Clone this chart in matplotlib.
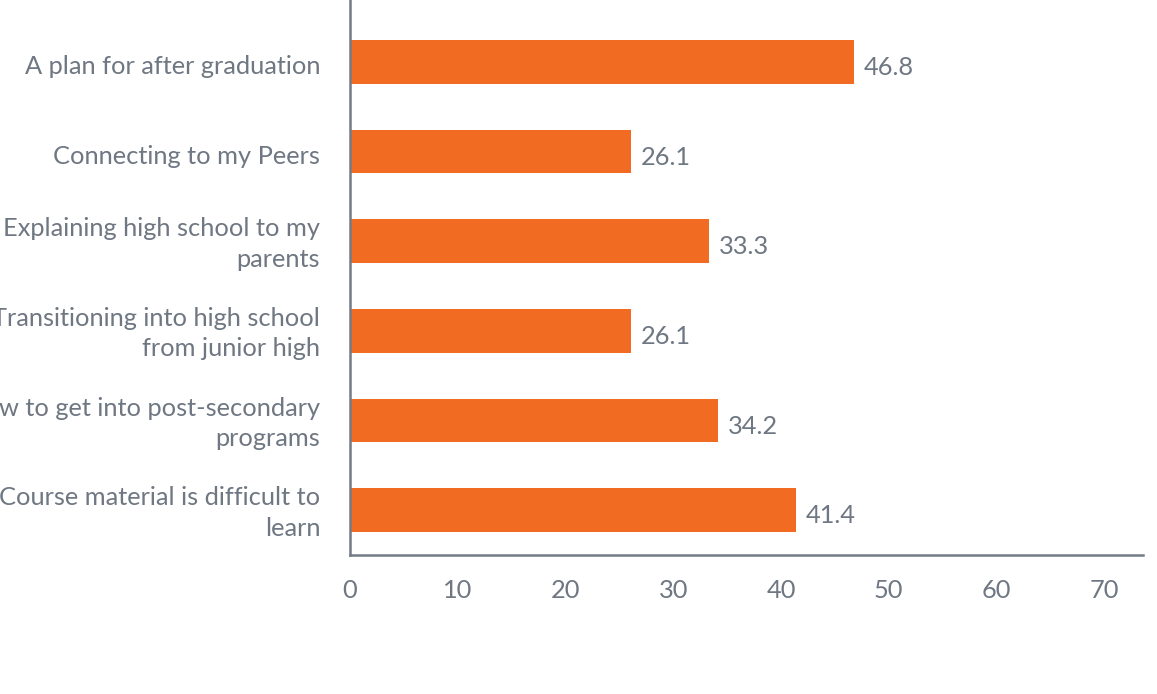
from matplotlib import pyplot as plt
from matplotlib import transforms
import numpy as np

# data, bottom to top
categories = ['Course material is difficult to\nlearn',
              'How to get into post-secondary\nprograms',
              'Transitioning into high school\nfrom junior high',
              'Explaining high school to my\nparents',
              'Connecting to my Peers',
              'A plan for after graduation']
values = [41.4, 34.2, 26.1, 33.3, 26.1, 46.8]
xticks = [0, 10, 20, 30, 40, 50, 60, 70]

bar_color = '#F26B23'
text_color = '#6E7782'
axis_color = '#737B86'
fs = 18.3

plt.rcParams['font.family'] = ['Lato', 'DejaVu Sans']

fig = plt.figure(figsize=(11.57, 6.94), dpi=100)
ax = fig.add_axes([350/1157., 0.2003, (1143-350)/1157., 0.7997])

ypos = np.arange(len(categories))
ax.barh(ypos, values, height=0.49, color=bar_color)
for y, v in zip(ypos, values):
    ax.annotate('%.1f' % v, (v, y), xytext=(7, -4), textcoords='offset points',
                va='center', ha='left', fontsize=fs, color=text_color)

ax.set_yticks(ypos)
ax.set_yticklabels(categories, fontsize=fs, color=text_color, linespacing=1.4)
ax.set_xticks(xticks)
ax.set_xticklabels([str(t) for t in xticks], fontsize=fs, color=text_color)
ax.tick_params(axis='both', length=0)
ax.tick_params(axis='x', pad=17)
ax.tick_params(axis='y', pad=21.5)

# small vertical nudges so labels sit like the original
for lbl in ax.get_yticklabels():
    dy = 3 if '\n' in lbl.get_text() else -3
    shift = transforms.ScaledTranslation(0, dy/100., fig.dpi_scale_trans)
    lbl.set_transform(lbl.get_transform() + shift)

ax.set_xlim(0, 73.6)
ax.set_ylim(-0.5, 5.69)
for s in ['top', 'right']:
    ax.spines[s].set_visible(False)
for s in ['left', 'bottom']:
    ax.spines[s].set_color(axis_color)
    ax.spines[s].set_linewidth(1.8)

plt.savefig('out.png', dpi=100)
